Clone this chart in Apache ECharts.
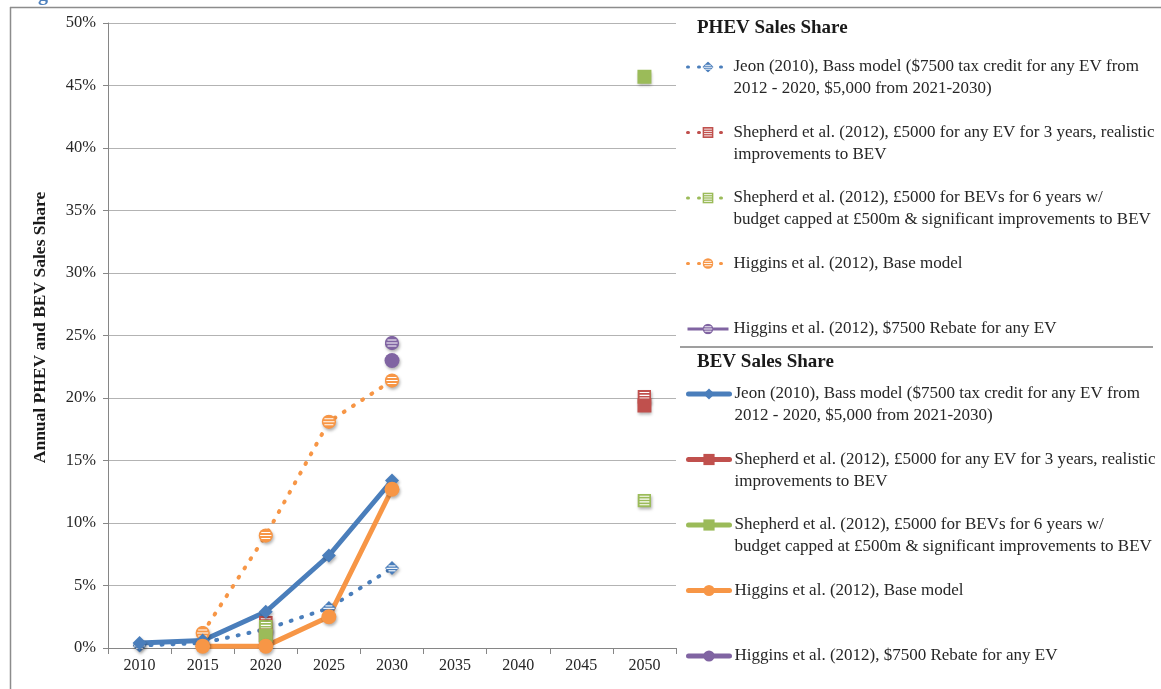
<!DOCTYPE html>
<html>
<head>
<meta charset="utf-8">
<script src="https://cdn.jsdelivr.net/npm/echarts@6/dist/echarts.min.js"></script>
<style>
  html, body { margin: 0; padding: 0; background: #fff; }
  #chart { width: 1161px; height: 689px; }
</style>
</head>
<body>
<div id="chart"></div>
<script>
var years = ['2010', '2015', '2020', '2025', '2030', '2035', '2040', '2045', '2050'];

// legend labels (same study list for PHEV and BEV)
var studyLabels = [
	'Jeon (2010), Bass model ($7500 tax credit for any EV from\n2012 - 2020, $5,000 from 2021-2030)',
	'Shepherd et al. (2012), \u00a35000 for any EV for 3 years, realistic\nimprovements to BEV',
	'Shepherd et al. (2012), \u00a35000 for BEVs for 6 years w/\nbudget capped at \u00a3500m & significant improvements to BEV',
	'Higgins et al. (2012), Base model\n ',
	'Higgins et al. (2012), $7500 Rebate for any EV\n '
];

// PHEV sales share (%)
var phevJeon      = [0.2, 0.4, 1.5, 3.2, 6.4, null, null, null, null];
var phevShepherdA = [null, null, 2.0, null, null, null, null, null, 20.1];
var phevShepherdB = [null, null, 1.7, null, null, null, null, null, 11.8];
var phevHiggins   = [null, 1.2, 9.0, 18.1, 21.4, null, null, null, null];
var phevHigRebate = [null, null, null, null, 24.4, null, null, null, null];

// BEV sales share (%)
var bevJeon      = [0.4, 0.6, 2.9, 7.4, 13.4, null, null, null, null];
var bevShepherdA = [null, null, 1.0, null, null, null, null, null, 19.4];
var bevShepherdB = [null, null, 1.0, null, null, null, null, null, 45.7];
var bevHiggins   = [null, 0.15, 0.15, 2.5, 12.7, null, null, null, null];
var bevHigRebate = [null, null, null, null, 23.0, null, null, null, null];

var colors = ['#4a7ebb', '#c0504d', '#9bbb59', '#f79646', '#8064a2'];
var shapes = ['diamond', 'rect', 'rect', 'circle', 'circle'];
var serif = 'Liberation Serif';

// striped marker drawn as a small svg
var striped = function(shape, c){
	var body;
	if (shape === 'circle') {
		body = "<circle cx='10' cy='10' r='9.5' fill='" + c + "'/>" +
			"<g stroke='#fff' stroke-width='1.6'><line x1='4' y1='6' x2='16' y2='6'/>" +
			"<line x1='2.5' y1='10' x2='17.5' y2='10'/><line x1='4' y1='14' x2='16' y2='14'/></g>";
	} else if (shape === 'rect') {
		body = "<rect x='0' y='0' width='20' height='20' fill='" + c + "'/>" +
			"<g stroke='#fff' stroke-width='1.6'><line x1='3' y1='4' x2='17' y2='4'/>" +
			"<line x1='3' y1='8' x2='17' y2='8'/><line x1='3' y1='12' x2='17' y2='12'/>" +
			"<line x1='3' y1='16' x2='17' y2='16'/></g>";
	} else {
		body = "<polygon points='10,0 20,10 10,20 0,10' fill='" + c + "'/>" +
			"<g stroke='#fff' stroke-width='1.6'><line x1='5' y1='7' x2='15' y2='7'/>" +
			"<line x1='2' y1='10.5' x2='18' y2='10.5'/><line x1='5' y1='14' x2='15' y2='14'/></g>";
	}
	var svg = "<svg xmlns='http://www.w3.org/2000/svg' width='20' height='20' viewBox='0 0 20 20'>" + body + "</svg>";
	return 'image://data:image/svg+xml;charset=utf-8,' + encodeURIComponent(svg);
};

var phevData = [phevJeon, phevShepherdA, phevShepherdB, phevHiggins, phevHigRebate];
var bevData = [bevJeon, bevShepherdA, bevShepherdB, bevHiggins, bevHigRebate];

var series = [];
var phevNames = [], bevNames = [];
var shadow = { shadowBlur: 3, shadowColor: 'rgba(0,0,0,0.3)', shadowOffsetX: 1, shadowOffsetY: 2 };

for (var i = 0; i < 5; i++) {
	phevNames.push('P' + i);
	series.push({
		name: 'P' + i,
		type: 'line',
		data: phevData[i],
		symbol: striped(shapes[i], colors[i]),
		symbolSize: shapes[i] === 'circle' ? 15 : 14,
		showAllSymbol: true,
		connectNulls: false,
		lineStyle: i === 4 ? { color: colors[i], width: 5 } : { color: colors[i], width: 4, type: [1, 10], cap: 'round' },
		itemStyle: Object.assign({ color: colors[i] }, shadow),
		emphasis: { disabled: true }
	});
}
for (var j = 0; j < 5; j++) {
	bevNames.push('B' + j);
	series.push({
		name: 'B' + j,
		type: 'line',
		data: bevData[j],
		symbol: shapes[j],
		symbolSize: shapes[j] === 'circle' ? 15 : 14,
		showAllSymbol: true,
		connectNulls: false,
		lineStyle: { color: colors[j], width: 5, cap: 'round' },
		itemStyle: Object.assign({ color: colors[j] }, shadow),
		emphasis: { disabled: true }
	});
}

// blank first line so the icon sits level with the first text line
var legendLabel = function(name){
	return ' \n' + studyLabels[parseInt(name.substring(1), 10)];
};

var legendBase = {
	orient: 'vertical',
	left: 686,
	padding: 0,
	height: 400,
	itemWidth: 41,
	itemHeight: 14,
	itemGap: -0.5,
	selectedMode: false,
	formatter: legendLabel,
	textStyle: {
		fontFamily: serif,
		fontSize: 17,
		color: '#262626',
		lineHeight: 22
	}
};

var dom = document.getElementById('chart');
var myChart = echarts.init(dom);
var option = {
	animation: false,
	grid: {
		left: 108,
		right: 485,
		top: 23,
		bottom: 41
	},
	legend: [
		Object.assign({}, legendBase, { top: 34, data: phevNames, lineStyle: { width: 3 } }),
		Object.assign({}, legendBase, { top: 361, data: bevNames, lineStyle: { width: 5 } })
	],
	xAxis: {
		type: 'category',
		data: years,
		boundaryGap: true,
		axisLine: { lineStyle: { color: '#868686', width: 1 } },
		axisTick: { show: true, length: 6, lineStyle: { color: '#868686' } },
		axisLabel: { fontFamily: serif, fontSize: 16, color: '#262626', margin: 10 },
		splitLine: { show: false }
	},
	yAxis: {
		type: 'value',
		min: 0,
		max: 50,
		interval: 5,
		name: 'Annual PHEV and BEV Sales Share',
		nameLocation: 'middle',
		nameGap: 59,
		nameTextStyle: { fontFamily: serif, fontSize: 17.5, fontWeight: 'bold', color: '#1a1a1a', padding: [0, 0, 0, 16] },
		axisLine: { show: true, lineStyle: { color: '#868686', width: 1 } },
		axisTick: { show: true, length: 5, lineStyle: { color: '#868686' } },
		axisLabel: { formatter: '{value}%', fontFamily: serif, fontSize: 16.5, color: '#262626', margin: 12 },
		splitLine: { show: true, lineStyle: { color: '#b3b3b3', width: 1 } }
	},
	graphic: [
		{ type: 'line', shape: { x1: 10, y1: 7.5, x2: 1161, y2: 7.5 }, style: { stroke: '#8c8c8c', lineWidth: 1.5 } },
		{ type: 'line', shape: { x1: 10.5, y1: 7, x2: 10.5, y2: 689 }, style: { stroke: '#8c8c8c', lineWidth: 1.5 } },
		{ type: 'line', shape: { x1: 680, y1: 347, x2: 1153, y2: 347 }, style: { stroke: '#7f7f7f', lineWidth: 1.5 } },
		{ type: 'text', left: 697, top: 19, style: { text: 'PHEV Sales Share', font: 'bold 19px "Liberation Serif"', fill: '#1a1a1a' } },
		{ type: 'text', left: 697, top: 353, style: { text: 'BEV Sales Share', font: 'bold 19px "Liberation Serif"', fill: '#1a1a1a' } },
		{ type: 'text', x: 38, y: -15, style: { text: 'g', font: 'bold 20px "Liberation Serif"', fill: '#4f81bd' } }
	],
	series: series
};

if (option && typeof option === "object") {
	myChart.setOption(option, true);
}
</script>
</body>
</html>
